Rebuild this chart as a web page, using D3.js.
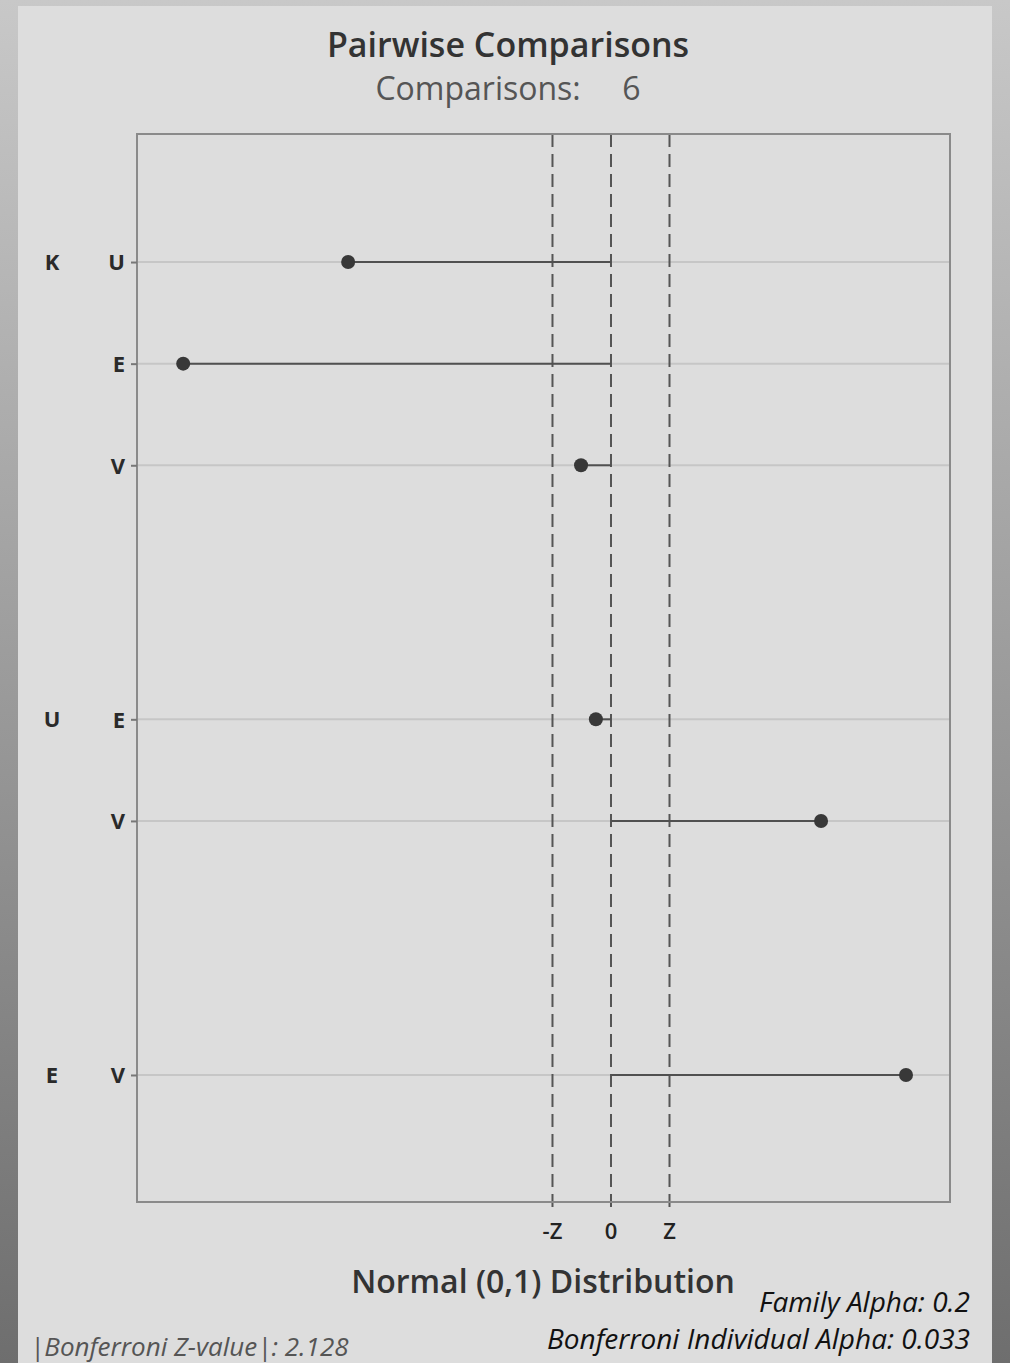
<!DOCTYPE html>
<html>
<head>
<meta charset="utf-8">
<script src="https://cdn.jsdelivr.net/npm/d3@7"></script>
<style>
  body { margin: 0; }
  svg text { font-family: "Open Sans", "DejaVu Sans", sans-serif; }
</style>
</head>
<body>
<div id="chart"></div>
<script>
// Chart data
const groups = ["K", "K", "K", "U", "U", "E"]
const levels = ["U", "E", "V", "E", "V", "V"]
const zValues = [-9.56, -15.56, -1.09, -0.55, 7.64, 10.73]
const groupNames = ["K", "U", "E"]
const zCrit = 2.128
const xTickValues = [-zCrit, 0, zCrit]
const xTickLabels = ["-Z", "0", "Z"]

const width = 1010
const height = 1363

const svg = d3.select("#chart")
    .append("svg")
    .attr("width", width)
    .attr("height", height)

// Background gradient and panel
const grad = svg.append("defs").append("linearGradient")
    .attr("id", "bg")
    .attr("x1", 0).attr("y1", 0).attr("x2", 0).attr("y2", 1)
grad.append("stop").attr("offset", 0).attr("stop-color", "#c8c8c8")
grad.append("stop").attr("offset", 1).attr("stop-color", "#6e6e6e")

svg.append("rect").attr("width", width).attr("height", height).attr("fill", "url(#bg)")
svg.append("rect")
    .attr("x", 18).attr("y", 6)
    .attr("width", 974).attr("height", height - 6)
    .attr("fill", "#dddddd")

// Plot area
const plot = {left: 137, right: 950, top: 134, bottom: 1202}

// row position: index plus a gap of 1.5 rows between groups
const rows = groups.map((g, i) => ({
    group: g,
    level: levels[i],
    z: zValues[i],
    pos: i + 1.5 * groupNames.indexOf(g),
    first: i === 0 || groups[i - 1] !== g
}))

const x = d3.scaleLinear()
    .domain([-17.24, 12.33])
    .range([plot.left, plot.right])

const y = d3.scaleLinear()
    .domain([-1.26, 9.25])
    .range([plot.top, plot.bottom])

// gridlines
svg.append("g")
    .selectAll("line")
    .data(rows)
    .join("line")
        .attr("x1", plot.left)
        .attr("x2", plot.right)
        .attr("y1", d => y(d.pos))
        .attr("y2", d => y(d.pos))
        .attr("stroke", "#c6c6c6")
        .attr("stroke-width", 2)

// dashed reference lines
svg.append("g")
    .selectAll("line")
    .data(xTickValues)
    .join("line")
        .attr("x1", d => x(d))
        .attr("x2", d => x(d))
        .attr("y1", plot.top)
        .attr("y2", plot.bottom + 8)
        .attr("stroke", "#555")
        .attr("stroke-width", 2)
        .attr("stroke-dasharray", "13,7")

// segments from zero to point
svg.append("g")
    .selectAll("line")
    .data(rows)
    .join("line")
        .attr("x1", x(0))
        .attr("x2", d => x(d.z))
        .attr("y1", d => y(d.pos))
        .attr("y2", d => y(d.pos))
        .attr("stroke", "#505050")
        .attr("stroke-width", 2)

svg.append("g")
    .selectAll("circle")
    .data(rows)
    .join("circle")
        .attr("cx", d => x(d.z))
        .attr("cy", d => y(d.pos))
        .attr("r", 7)
        .attr("fill", "#383838")

// frame
svg.append("rect")
    .attr("x", plot.left).attr("y", plot.top)
    .attr("width", plot.right - plot.left)
    .attr("height", plot.bottom - plot.top)
    .attr("fill", "none")
    .attr("stroke", "#8a8a8a")
    .attr("stroke-width", 2)

// y axis: ticks and labels
const yAxis = svg.append("g").attr("transform", `translate(${plot.left},0)`)
    .call(d3.axisLeft(y)
        .tickValues(rows.map(d => d.pos))
        .tickFormat((d, i) => rows[i].level)
        .tickSize(6)
        .tickPadding(6))
yAxis.select(".domain").remove()
yAxis.selectAll(".tick line").attr("stroke", "#777").attr("stroke-width", 2)
yAxis.selectAll(".tick text")
    .attr("font-size", 22)
    .attr("font-weight", "bold")
    .attr("fill", "#2a2a2a")
    .attr("dy", "0.36em")

svg.append("g")
    .selectAll("text")
    .data(rows.filter(d => d.first))
    .join("text")
        .attr("x", 52)
        .attr("y", d => y(d.pos))
        .attr("dy", "0.36em")
        .attr("text-anchor", "middle")
        .attr("font-size", 22)
        .attr("font-weight", "bold")
        .attr("fill", "#2a2a2a")
        .text(d => d.group)

// x axis labels
svg.append("g")
    .selectAll("text")
    .data(xTickValues)
    .join("text")
        .attr("x", d => x(d))
        .attr("y", 1239)
        .attr("text-anchor", "middle")
        .attr("font-size", 22)
        .attr("font-weight", 600)
        .attr("fill", "#222")
        .text((d, i) => xTickLabels[i])

// titles
svg.append("text")
    .attr("x", 508).attr("y", 57)
    .attr("text-anchor", "middle")
    .attr("font-size", 34)
    .attr("font-weight", 600)
    .attr("fill", "#333")
    .text("Pairwise Comparisons")

svg.append("text")
    .attr("x", 508).attr("y", 100)
    .attr("text-anchor", "middle")
    .attr("font-size", 32)
    .attr("fill", "#555")
    .style("white-space", "pre")
    .text("Comparisons:     6")

svg.append("text")
    .attr("x", 543).attr("y", 1293)
    .attr("text-anchor", "middle")
    .attr("font-size", 32)
    .attr("font-weight", 600)
    .attr("fill", "#333")
    .text("Normal (0,1) Distribution")

svg.append("text")
    .attr("x", 970).attr("y", 1312)
    .attr("text-anchor", "end")
    .attr("font-size", 28)
    .attr("font-style", "italic")
    .attr("fill", "#111")
    .text("Family Alpha: 0.2")

svg.append("text")
    .attr("x", 970).attr("y", 1349)
    .attr("text-anchor", "end")
    .attr("font-size", 28)
    .attr("font-style", "italic")
    .attr("fill", "#111")
    .text("Bonferroni Individual Alpha: 0.033")

svg.append("text")
    .attr("x", 30).attr("y", 1356)
    .attr("font-size", 26)
    .attr("font-style", "italic")
    .attr("fill", "#555")
    .text("|Bonferroni Z-value|: 2.128")
</script>
</body>
</html>
